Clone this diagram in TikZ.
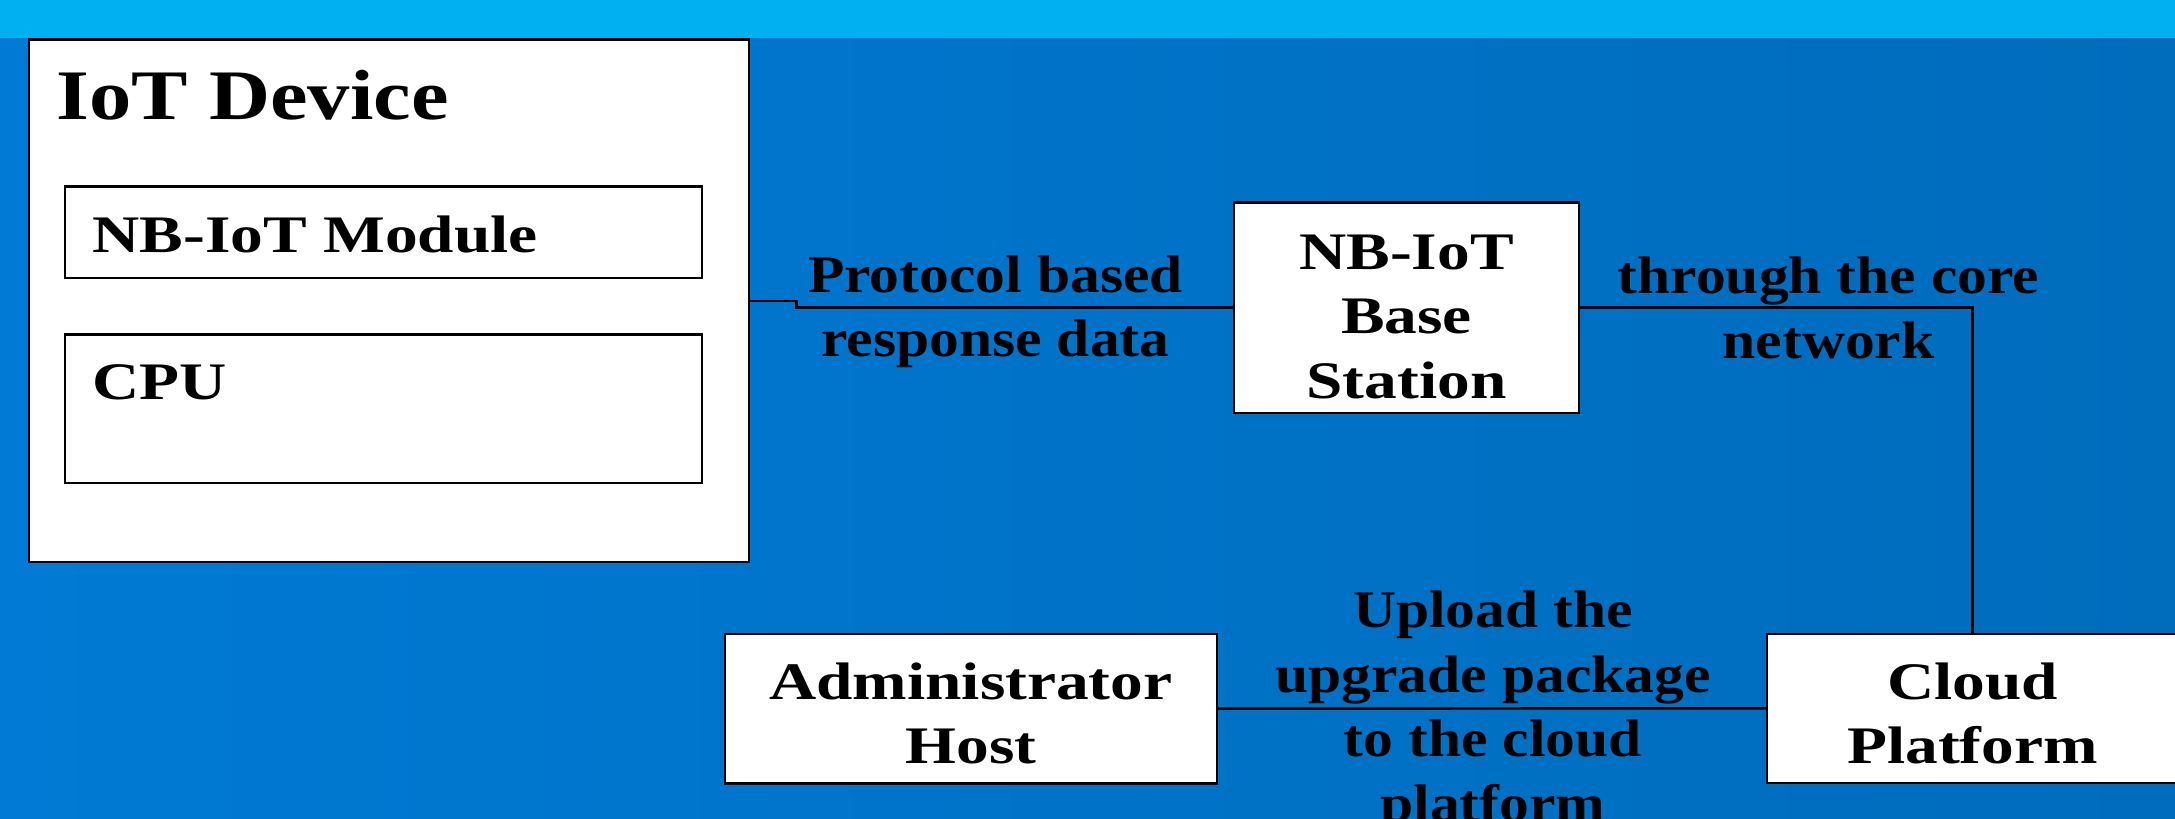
\documentclass[tikz,border=0pt]{standalone}
\usepackage{fontspec}
\setmainfont{Liberation Serif}[FakeStretch=1.19]
\newfontfamily\boxfont{Liberation Serif}[FakeStretch=1.24]
\newfontfamily\linkfont{Liberation Serif}[FakeStretch=1.13]
\usetikzlibrary{positioning}
\usetikzlibrary{calc}
\definecolor{barblue}{RGB}{0,176,240}
\definecolor{bgleft}{RGB}{0,122,212}
\definecolor{bgright}{RGB}{0,108,188}
\tikzstyle{block}=[rectangle,draw=black,fill=white,line width=0.7pt,inner sep=0pt]
\tikzstyle{link}=[draw,line width=0.7pt]
\tikzstyle{boxtext}=[align=center,inner sep=0pt,font=\boxfont\bfseries\fontsize{15}{18.35}\selectfont]
\tikzstyle{caption}=[align=center,inner sep=0pt,font=\linkfont\bfseries\fontsize{15}{18.35}\selectfont]
\tikzstyle{title}=[anchor=base west,inner sep=0pt,font=\boxfont\bfseries\fontsize{15}{18.35}\selectfont]

\begin{document}
\begin{tikzpicture}[x=0.01cm,y=-0.01cm]

% Background
    \fill[barblue] (0,0) rectangle (2175,39);
    \shade[left color=bgleft,right color=bgright] (0,39) rectangle (2175,819);
    \useasboundingbox (0,0) rectangle (2175,819);

%IoT device
    \node[block,minimum width=7.2cm,minimum height=5.225cm] (iot) at (389,300.75) {};
    \node[title,font=\rmfamily\bfseries\fontsize{20.2}{24}\selectfont] (iottitle) at (56,119.3) {IoT Device};
    \foreach \pos/\name/\h in {{(383.5,232.35)/module/0.913}, {(383.5,408.75)/cpu/1.485}}
        \node[block,minimum width=6.37cm,minimum height=\h cm] (\name) at \pos {};
    \node[title] (moduletext) at (92,253) {NB-IoT Module};
    \node[title] (cputext) at (92,400) {CPU};

%Boxes
    \foreach \pos/\name/\w/\h/\dy/\label in {{(1406.5,307.7)/base/3.45/2.1/0.09/{NB-IoT\\Base\\Station}},
        {(970.85,708.65)/admin/4.917/1.493/0.05/{Administrator\\Host}},
        {(1972.65,708.35)/cloud/4.107/1.487/0.05/{Cloud\\Platform}}}
    {
        \node[block,minimum width=\w cm,minimum height=\h cm] (\name) at \pos {};
        \node[boxtext] (\name text) at ([yshift=-\dy cm]\name.center) {\label};
    }

% Edges
    \path[link] (iot.east) -- ++(46,0) |- (base.west);
    \path[link] (base.east) -| (cloud.north);
    \path[link] (admin.east) -- (cloud.west);

%Label
    \node[caption] (protocol) at (995.5,311.6) {Protocol based\\response data};
    \node[caption] (corenet) at (1828.5,308) {through the core\\network};
    \node[caption] (upload) at (1493,711.75) {Upload the\\upgrade package\\to the cloud\\platform};

\end{tikzpicture}
\end{document}
